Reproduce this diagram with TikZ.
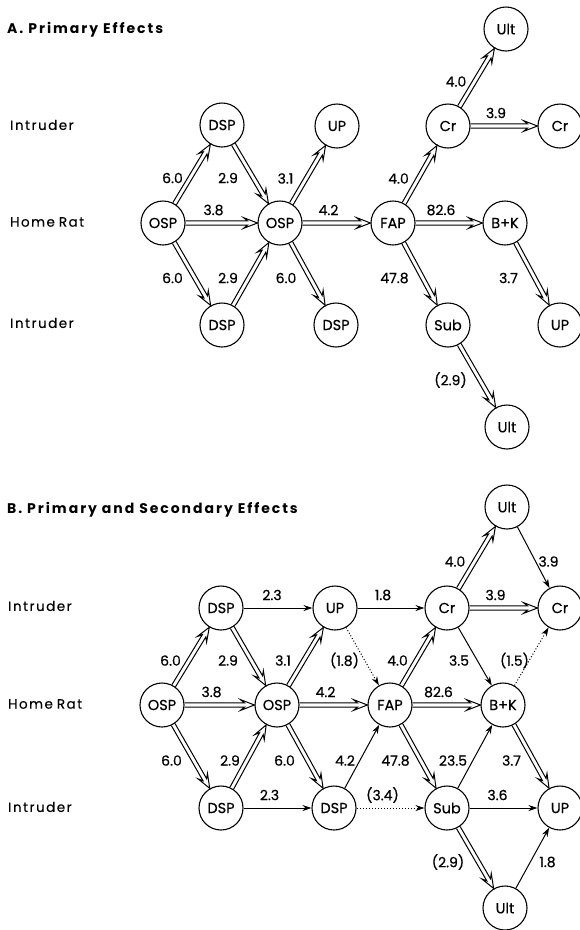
\documentclass[tikz,border=0pt]{standalone}
\usepackage{fontspec}
\setmainfont{Poppins}
\newfontfamily\rowfont[LetterSpace=11,FakeBold=0.3]{Poppins}
\newfontfamily\ttlfont[LetterSpace=14]{Poppins}
\newfontfamily\nodefont[FakeBold=0.5]{Poppins}
\usetikzlibrary{arrows.meta,decorations.markings}
\newcommand\dblarrowmark{%
  \pgfmathsetmacro\Lh{\pgfdecoratedpathlength}%
  \draw[line width=1pt,line join=miter,solid] (0pt,2.1pt) -- (\Lh pt-10pt,2.1pt) -- (\Lh pt-14pt,5.4pt) -- (\Lh pt,0pt) -- (\Lh pt-14pt,-5.4pt) -- (\Lh pt-10pt,-2.1pt) -- (0pt,-2.1pt);}
\begin{document}
\begin{tikzpicture}[x=1pt,y=-1pt,
  st/.style={circle,draw,line width=1.1pt,minimum size=44pt,inner sep=0pt,font=\nodefont\fontsize{14.5}{16}\selectfont},
  lbl/.style={font=\nodefont\fontsize{14}{16}\selectfont,inner sep=0pt},
  rowlbl/.style={anchor=west,inner sep=0pt,font=\rowfont\fontsize{13.5}{15}\selectfont},
  ttl/.style={anchor=west,inner sep=0pt,font=\ttlfont\bfseries\fontsize{14}{16}\selectfont},
  dbl/.style={decorate,decoration={markings,mark=at position 0 with {\dblarrowmark}}},
  sgl/.style={draw,line width=1pt,-{Stealth[length=9pt,width=6pt]}},
  dotarr/.style={sgl,dotted},
  dl/.style={lbl,yshift=-4pt},
  hl/.style={lbl,yshift=13pt,xshift=-8pt}
]
\useasboundingbox (0,0) rectangle (580,930);

% ---------------- Panel A ----------------
\node[ttl] (tA) at (7,30) {A. Primary Effects};
\node[rowlbl] (rA1) at (10,125) {Intruder};
\node[rowlbl] (rA2) at (10,222) {Home\hspace{4pt}Rat};
\node[rowlbl] (rA3) at (10,323) {Intruder};

\node[st] (aOSP1) at (163,223) {OSP};
\node[st] (aDSP1) at (222,125) {DSP};
\node[st] (aDSP2) at (222,325) {DSP};
\node[st] (aOSP2) at (280,223) {OSP};
\node[st] (aUP1)  at (337,126) {UP};
\node[st] (aDSP3) at (336,325) {DSP};
\node[st] (aFAP)  at (393,223) {FAP};
\node[st] (aCr1)  at (448,126) {Cr};
\node[st] (aUlt1) at (506,29)  {Ult};
\node[st] (aCr2)  at (560,126) {Cr};
\node[st] (aBK)   at (505,223) {B+K};
\node[st] (aSub)  at (448,325) {Sub};
\node[st] (aUP2)  at (560,325) {UP};
\node[st] (aUlt2) at (507,427) {Ult};

\path[dbl] (aOSP1) -- node[dl,xshift=-20pt] {6.0} (aDSP1);
\path[dbl] (aOSP1) -- node[dl,xshift=-20pt] {6.0} (aDSP2);
\path[dbl] (aOSP1) -- node[hl] {3.8} (aOSP2);
\path[dbl] (aDSP1) -- node[dl,xshift=-23pt] {2.9} (aOSP2);
\path[dbl] (aDSP2) -- node[dl,xshift=-23pt] {2.9} (aOSP2);
\path[dbl] (aOSP2) -- node[dl,xshift=-23pt] {3.1} (aUP1);
\path[dbl] (aOSP2) -- node[dl,xshift=-22pt] {6.0} (aDSP3);
\path[dbl] (aOSP2) -- node[hl] {4.2} (aFAP);
\path[dbl] (aFAP) -- node[dl,xshift=-22pt] {4.0} (aCr1);
\path[dbl] (aFAP) -- node[hl] {82.6} (aBK);
\path[dbl] (aFAP) -- node[dl,xshift=-26pt] {47.8} (aSub);
\path[dbl] (aCr1) -- node[dl,xshift=-21pt] {4.0} (aUlt1);
\path[dbl] (aCr1) -- node[hl] {3.9} (aCr2);
\path[dbl] (aBK) -- node[dl,xshift=-24pt] {3.7} (aUP2);
\path[dbl] (aSub) -- node[dl,xshift=-27pt] {(2.9)} (aUlt2);

% ---------------- Panel B ----------------
\node[ttl] (tB) at (7,510) {B. Primary and Secondary Effects};
\node[rowlbl] (rB1) at (8,606) {Intruder};
\node[rowlbl] (rB2) at (8,704) {Home\hspace{4pt}Rat};
\node[rowlbl] (rB3) at (8,807) {Intruder};

\node[st] (bUlt1) at (507,507) {Ult};
\node[st] (bDSP1) at (221,608) {DSP};
\node[st] (bUP1)  at (335,608) {UP};
\node[st] (bCr1)  at (447,608) {Cr};
\node[st] (bCr2)  at (560,608) {Cr};
\node[st] (bOSP1) at (162,705) {OSP};
\node[st] (bOSP2) at (277,705) {OSP};
\node[st] (bFAP)  at (390,705) {FAP};
\node[st] (bBK)   at (503,705) {B+K};
\node[st] (bDSP2) at (221,808) {DSP};
\node[st] (bDSP3) at (334,808) {DSP};
\node[st] (bSub)  at (447,808) {Sub};
\node[st] (bUP2)  at (560,808) {UP};
\node[st] (bUlt2) at (505,908) {Ult};

\path[dbl] (bOSP1) -- node[dl,xshift=-21pt] {6.0} (bDSP1);
\path[dbl] (bOSP1) -- node[hl] {3.8} (bOSP2);
\path[dbl] (bOSP1) -- node[dl,xshift=-20pt] {6.0} (bDSP2);
\path[dbl] (bDSP1) -- node[dl,xshift=-21pt] {2.9} (bOSP2);
\path[dbl] (bDSP2) -- node[dl,xshift=-19pt] {2.9} (bOSP2);
\path[dbl] (bOSP2) -- node[dl,xshift=-23pt] {3.1} (bUP1);
\path[dbl] (bOSP2) -- node[hl] {4.2} (bFAP);
\path[dbl] (bOSP2) -- node[dl,xshift=-21pt] {6.0} (bDSP3);
\path[dbl] (bFAP) -- node[dl,xshift=-21pt] {4.0} (bCr1);
\path[dbl] (bFAP) -- node[hl] {82.6} (bBK);
\path[dbl] (bFAP) -- node[dl,xshift=-23pt] {47.8} (bSub);
\path[dbl] (bCr1) -- node[dl,xshift=-22pt] {4.0} (bUlt1);
\path[dbl] (bCr1) -- node[hl] {3.9} (bCr2);
\path[dbl] (bBK) -- node[dl,xshift=-20pt] {3.7} (bUP2);
\path[dbl] (bSub) -- node[dl,xshift=-28pt] {(2.9)} (bUlt2);

\draw[sgl] (bDSP1) -- node[hl,xshift=2pt] {2.3} (bUP1);
\draw[sgl] (bUP1) -- node[hl] {1.8} (bCr1);
\draw[sgl] (bUlt1) -- node[dl,xshift=15pt] {3.9} (bCr2);
\draw[sgl] (bCr1) -- node[dl,xshift=-16pt] {3.5} (bBK);
\draw[sgl] (bDSP3) -- node[dl,xshift=-17pt] {4.2} (bFAP);
\draw[sgl] (bSub) -- node[dl,xshift=-22pt] {23.5} (bBK);
\draw[sgl] (bDSP2) -- node[hl] {2.3} (bDSP3);
\draw[sgl] (bSub) -- node[hl,xshift=2pt] {3.6} (bUP2);
\draw[sgl] (bUlt2) -- node[dl,xshift=15pt] {1.8} (bUP2);

\draw[dotarr] (bUP1) -- node[dl,xshift=-18pt] {(1.8)} (bFAP);
\draw[dotarr] (bBK) -- node[dl,xshift=-17pt] {(1.5)} (bCr2);
\draw[dotarr] (bDSP3) -- node[hl] {(3.4)} (bSub);
\end{tikzpicture}
\end{document}
